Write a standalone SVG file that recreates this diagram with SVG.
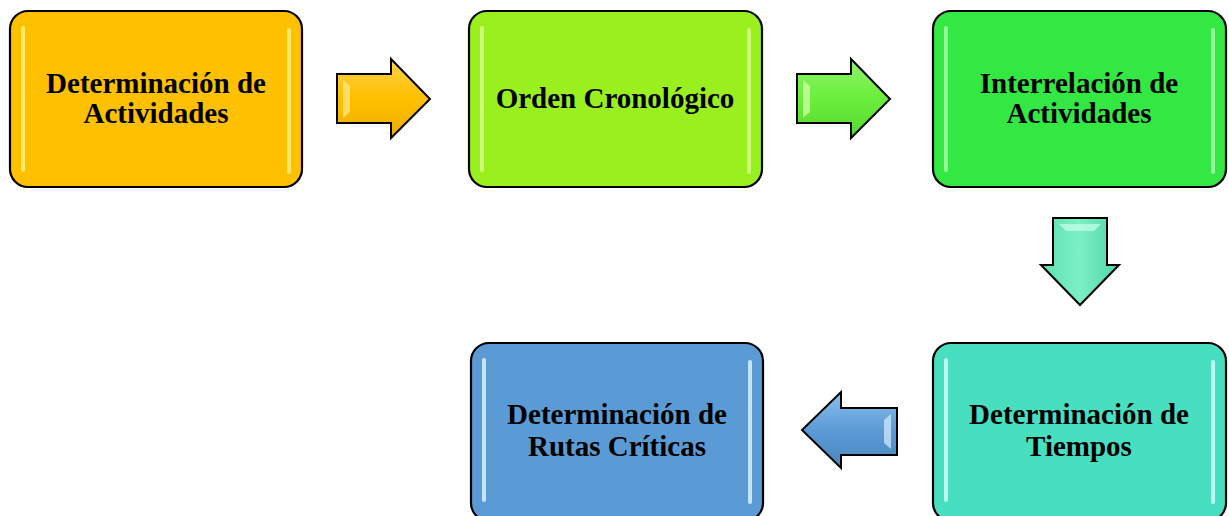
<svg xmlns="http://www.w3.org/2000/svg" width="1229" height="516" viewBox="0 0 1229 516">
<style>
.box{stroke:#000;stroke-width:2.2}
.lbl{font-family:"Liberation Serif","Times New Roman",serif;font-weight:bold;font-size:29px;fill:#000;text-anchor:middle}
.hl{stroke-width:4;stroke-linecap:round;opacity:0.85}
.arr{stroke:#000;stroke-width:2;stroke-linejoin:miter}
</style>
<defs>
<linearGradient id="ga" x1="0" y1="0" x2="0" y2="1"><stop offset="0" stop-color="#FFD24A"/><stop offset="0.5" stop-color="#FFC000"/><stop offset="1" stop-color="#EDAE00"/></linearGradient>
<linearGradient id="gb" x1="0" y1="0" x2="0" y2="1"><stop offset="0" stop-color="#8CF56A"/><stop offset="0.5" stop-color="#6CEE3C"/><stop offset="1" stop-color="#55D830"/></linearGradient>
<linearGradient id="gc" x1="0" y1="0" x2="1" y2="0"><stop offset="0" stop-color="#5FE0B0"/><stop offset="0.5" stop-color="#7AF0C4"/><stop offset="1" stop-color="#4ED6A8"/></linearGradient>
<linearGradient id="gd" x1="0" y1="0" x2="0" y2="1"><stop offset="0" stop-color="#8CC0EE"/><stop offset="0.5" stop-color="#5B9BD5"/><stop offset="1" stop-color="#4A86C0"/></linearGradient>
</defs>

<g id="node-actividades">
<rect class="box" x="10" y="11" width="292" height="176" rx="18" fill="#FFC000"/>
<line class="hl" x1="23" y1="28" x2="23" y2="170" stroke="#FFF27A"/>
<line class="hl" x1="289" y1="30" x2="289" y2="172" stroke="#FFF27A"/>
<text class="lbl" x="156" y="93">Determinación de</text>
<text class="lbl" x="156" y="123">Actividades</text>
</g>

<g id="node-orden">
<rect class="box" x="469" y="11" width="293" height="176" rx="18" fill="#99F01E"/>
<line class="hl" x1="482" y1="28" x2="482" y2="170" stroke="#D8FF8A"/>
<line class="hl" x1="749" y1="30" x2="749" y2="172" stroke="#D8FF8A"/>
<text class="lbl" x="615" y="108">Orden Cronológico</text>
</g>

<g id="node-interrelacion">
<rect class="box" x="933" y="11" width="293" height="176" rx="18" fill="#34E844"/>
<line class="hl" x1="946" y1="28" x2="946" y2="170" stroke="#A8FFA8"/>
<line class="hl" x1="1213" y1="30" x2="1213" y2="172" stroke="#A8FFA8"/>
<text class="lbl" x="1079" y="93">Interrelación de</text>
<text class="lbl" x="1079" y="123">Actividades</text>
</g>

<g id="node-tiempos">
<rect class="box" x="933" y="343" width="293" height="178" rx="18" fill="#48DFC0"/>
<line class="hl" x1="946" y1="360" x2="946" y2="500" stroke="#D0FFF6"/>
<line class="hl" x1="1213" y1="362" x2="1213" y2="502" stroke="#D0FFF6"/>
<text class="lbl" x="1079" y="424">Determinación de</text>
<text class="lbl" x="1079" y="456">Tiempos</text>
</g>

<g id="node-rutas">
<rect class="box" x="471" y="343" width="292" height="178" rx="18" fill="#5B9BD5"/>
<line class="hl" x1="484" y1="360" x2="484" y2="500" stroke="#D8F2FF"/>
<line class="hl" x1="750" y1="362" x2="750" y2="502" stroke="#D8F2FF"/>
<text class="lbl" x="617" y="424">Determinación de</text>
<text class="lbl" x="617" y="456">Rutas Críticas</text>
</g>

<g id="connectors">
<path class="arr" fill="url(#ga)" d="M337 74 H391 V59 L430 99 L391 138 V123 H337 Z"/>
<path d="M343 80 L350 86 V112 L343 118 Z" fill="#FFE890" opacity="0.7"/>
<path class="arr" fill="url(#gb)" d="M797 74 H851 V59 L890 99 L851 138 V123 H797 Z"/>
<path d="M803 80 L810 86 V112 L803 118 Z" fill="#D8FFB0" opacity="0.7"/>
<path class="arr" fill="url(#gc)" d="M1053 218 H1107 V265 H1119 L1080 305 L1041 265 H1053 Z"/>
<path d="M1059 224 H1101 L1094 231 H1066 Z" fill="#C8FFE8" opacity="0.7"/>
<path class="arr" fill="url(#gd)" d="M897 408 H841 V392 L802 430 L841 468 V455 H897 Z"/>
<path d="M891 414 L884 420 V443 L891 449 Z" fill="#D8EEFF" opacity="0.7"/>
</g>
</svg>
